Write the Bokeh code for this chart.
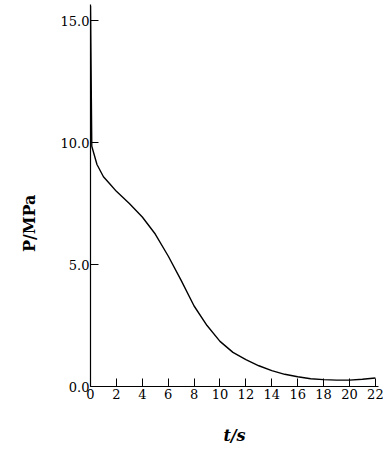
from bokeh.plotting import figure
from bokeh.models import Range1d, FixedTicker
from bokeh.embed import file_html
from bokeh.resources import INLINE

t_s = [0, 0.1, 0.5, 1, 1.5, 2, 3, 4, 5, 6, 7, 8, 9, 10, 11, 12, 13, 14, 15, 16, 17, 18, 19, 20, 21, 22]
p_mpa = [15.6, 9.85, 9.1, 8.6, 8.3, 8.0, 7.5, 6.95, 6.25, 5.35, 4.35, 3.3, 2.5, 1.85, 1.4, 1.1, 0.85, 0.65, 0.5, 0.4, 0.32, 0.28, 0.26, 0.26, 0.3, 0.35]
x_ticks = [0, 2, 4, 6, 8, 10, 12, 14, 16, 18, 20, 22]
y_ticks = [0, 5, 10, 15]

p = figure(width=384, height=450, output_backend="svg", toolbar_location=None,
           x_range=Range1d(0, 22.24), y_range=Range1d(0, 15.66),
           min_border_left=90, min_border_right=6, min_border_top=4, min_border_bottom=64)
p.outline_line_color = None
p.grid.visible = False
p.background_fill_color = "white"

p.line(t_s, p_mpa, line_color="black", line_width=1.4)

font = "DejaVu Serif"
p.xaxis.ticker = FixedTicker(ticks=x_ticks)
p.yaxis.ticker = FixedTicker(ticks=y_ticks)
p.yaxis.major_label_overrides = {0: "0.0", 5: "5.0", 10: "10.0", 15: "15.0"}
for ax in (p.xaxis, p.yaxis):
    ax.major_tick_in = 8
    ax.major_tick_out = 0
    ax.minor_tick_in = 0
    ax.minor_tick_out = 0
    ax.axis_line_color = "black"
    ax.axis_line_width = 1.2
    ax.major_tick_line_color = "black"
    ax.major_label_text_font = font
    ax.major_label_text_font_size = "13px"
    ax.major_label_text_color = "black"
    ax.axis_label_text_font = font
    ax.axis_label_text_color = "black"
p.yaxis.major_label_standoff = 1
p.xaxis.major_label_standoff = 2
p.xaxis.axis_label = "t/s"
p.xaxis.axis_label_text_font_style = "bold italic"
p.xaxis.axis_label_text_font_size = "16px"
p.xaxis.axis_label_standoff = 24

p.yaxis.axis_label = "P/MPa" + "\u00a0" * 10
p.yaxis.axis_label_text_font_style = "bold"
p.yaxis.axis_label_text_font_size = "16px"
p.yaxis.axis_label_standoff = 19

open("out.html", "w").write(file_html(p, INLINE))
